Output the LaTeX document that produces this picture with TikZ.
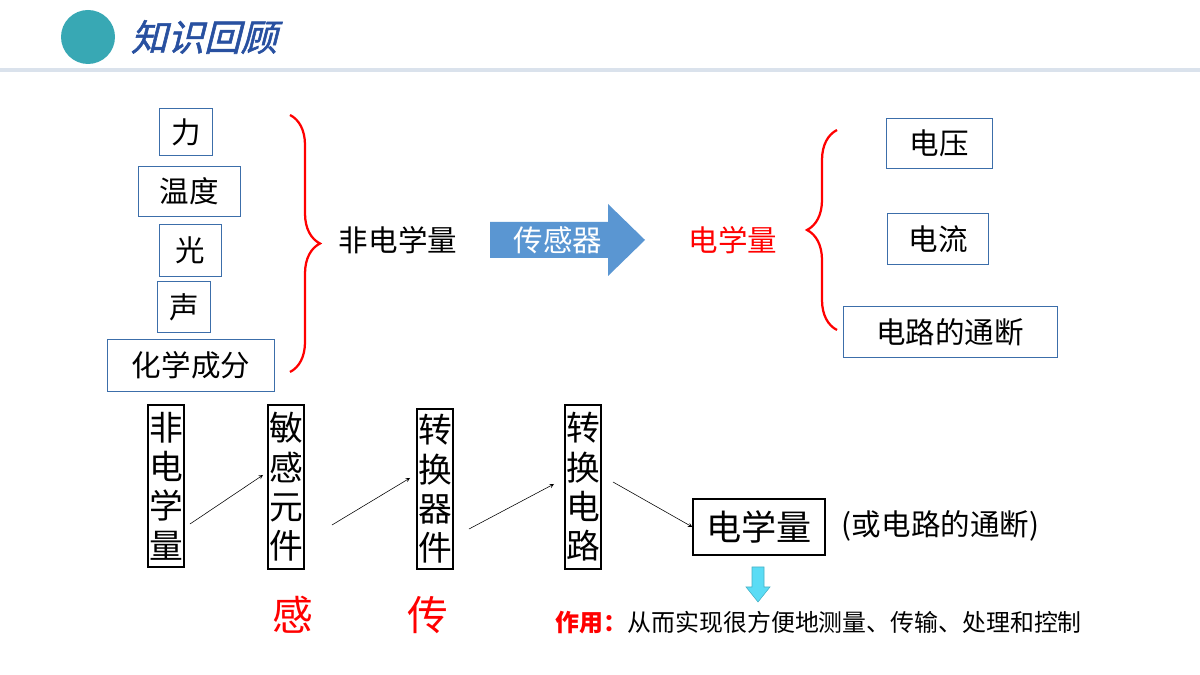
\documentclass[tikz,border=0pt]{standalone}
\usepackage{fontspec}
\setmainfont{Noto Sans CJK SC}
\newfontfamily\titlefont[FakeSlant=0.25,FakeBold=1.5]{Noto Sans CJK SC}
\usetikzlibrary{positioning,decorations.pathreplacing,calc}
\definecolor{headteal}{RGB}{56,168,180}
\definecolor{titleblue}{RGB}{40,80,160}
\definecolor{linegray}{RGB}{218,226,236}
\definecolor{boxblue}{RGB}{60,110,170}
\definecolor{arrowblue}{RGB}{90,150,210}
\definecolor{arrowcyan}{RGB}{90,220,245}
\begin{document}
\begin{tikzpicture}[
        x=0.025cm, y=0.025cm,
        qbox/.style={rectangle, draw=boxblue, thin, inner sep=0pt,
            font=\fontsize{21}{24}\selectfont},
        vbox/.style={rectangle, draw=black, line width=1.4pt, inner sep=0pt,
            text width=0.9cm, align=center, minimum height=#1,
            font=\fontsize{24}{28}\selectfont},
        hint/.style={font=\fontsize{21}{24}\selectfont},
        brace/.style={decorate, decoration={brace, amplitude=#1}, draw=red, line width=1.6pt},
        link/.style={->, >=stealth, thin}
    ]
        \useasboundingbox (0,0) rectangle (1200,675);
        % header
        \fill[headteal] (88,638) circle (27);
        \node[font=\fontsize{26}{28}\titlefont, text=titleblue, anchor=west] (title) at (126,638) {知识回顾};
        \fill[linegray] (0,603) rectangle (1200,607);

        % inputs
        \node[qbox, minimum width=1.33cm, minimum height=1.18cm] (force) at (186,543) {力};
        \node[qbox, minimum width=2.55cm, minimum height=1.25cm] (temp) at (189,484) {温度};
        \node[qbox, minimum width=1.55cm, minimum height=1.3cm] (light) at (190,425) {光};
        \node[qbox, minimum width=1.33cm, minimum height=1.28cm] (sound) at (184,368) {声};
        \node[qbox, minimum width=4.18cm, minimum height=1.3cm] (chem) at (191,310) {化学成分};
        \draw[brace=0.75cm] (290,560) -- (290,303);
        \node[hint] (nonel) at (398,435) {非电学量};
        \fill[arrowblue] (490,417) -- (608,417) -- (608,399) -- (645,435) -- (608,471) -- (608,453) -- (490,453) -- cycle;
        \node[hint, text=white] (sensor) at (558,435) {传感器};
        \node[hint, text=red] (el) at (733,435) {电学量};
        \draw[brace=0.75cm] (837,345) -- (837,545);
        \node[qbox, minimum width=2.65cm, minimum height=1.25cm] (volt) at (939,532) {电压};
        \node[qbox, minimum width=2.52cm, minimum height=1.28cm] (curr) at (938,436) {电流};
        \node[qbox, minimum width=5.35cm, minimum height=1.28cm] (onoff) at (950,343) {电路的通断};

        % chain
        \node[vbox=4.05cm] (chainA) at (166,189) {非\\电\\学\\量};
        \node[vbox=4.1cm] (chainB) at (286,188) {敏\\感\\元\\件};
        \node[vbox=4cm] (chainC) at (435,186) {转\\换\\器\\件};
        \node[vbox=4.1cm] (chainD) at (583,188) {转\\换\\电\\路};
        \node[rectangle, draw=black, line width=1.4pt, minimum width=3.28cm, minimum height=1.42cm,
            font=\fontsize{25}{28}\selectfont] (chainE) at (759,148) {电学量};
        \node[hint, anchor=west] (note) at (837,149) {(或电路的通断)};
        \draw[link] ($(chainA.east)+(5,-38)$) -- ($(chainB.west)+(-4,12)$);
        \draw[link] ($(chainB.east)+(27,-38)$) -- ($(chainC.west)+(-6,11)$);
        \draw[link] ($(chainC.east)+(15,-40)$) -- ($(chainD.west)+(-10,3)$);
        \draw[link] ($(chainD.east)+(11,5)$) -- (chainE.west);
        \node[font=\fontsize{29}{32}\selectfont, text=red] (sense) at (293,60) {感};
        \node[font=\fontsize{29}{32}\selectfont, text=red] (pass) at (428,60) {传};
        \filldraw[fill=arrowcyan, draw=arrowcyan!80!black, thin] (752,108) -- (764,108) -- (764,88) -- (770,88) -- (758,73) -- (746,88) -- (752,88) -- cycle;
        \node[anchor=west, font=\fontsize{17}{20}\selectfont] (use) at (551,52)
            {\textcolor{red}{\bfseries 作用：}从而实现很方便地测量、传输、处理和控制};
    \end{tikzpicture}
\end{document}
